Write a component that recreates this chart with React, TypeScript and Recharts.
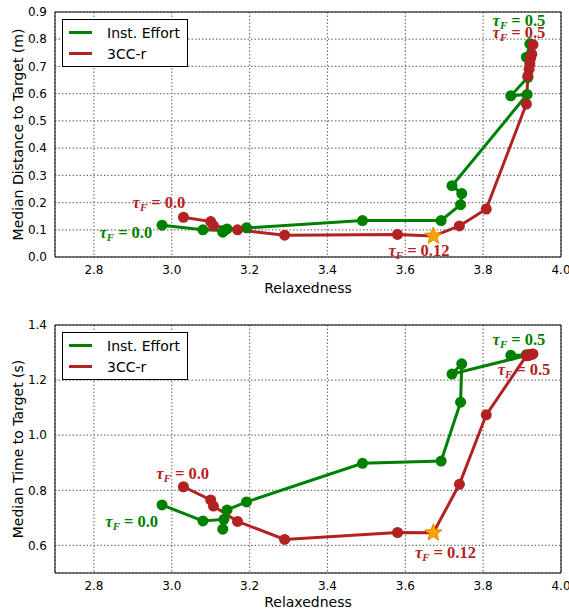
import { ComposedChart, Line, Scatter, XAxis, YAxis, CartesianGrid, ReferenceDot, Legend } from 'recharts'

// relaxedness (x) per controller setting, in plotted order
const relaxInst = [2.975, 3.08, 3.134, 3.131, 3.142, 3.192, 3.49, 3.692, 3.742, 3.745, 3.72, 3.913, 3.871, 3.915, 3.911, 3.92]
const distInst = [0.117, 0.1, 0.097, 0.091, 0.103, 0.107, 0.134, 0.134, 0.192, 0.233, 0.262, 0.597, 0.592, 0.66, 0.734, 0.783]
const timeInst = [0.747, 0.689, 0.695, 0.659, 0.729, 0.758, 0.898, 0.906, 1.12, 1.259, 1.222, 1.29, 1.29, 1.29, 1.292, 1.292]

const relaxCC = [3.03, 3.1, 3.107, 3.169, 3.29, 3.58, 3.672, 3.739, 3.808, 3.911, 3.915, 3.918, 3.92, 3.922, 3.925, 3.928]
const distCC = [0.146, 0.13, 0.115, 0.1, 0.08, 0.083, 0.077, 0.114, 0.176, 0.562, 0.665, 0.69, 0.71, 0.73, 0.745, 0.78]
const timeCC = [0.813, 0.765, 0.743, 0.687, 0.622, 0.647, 0.646, 0.822, 1.074, 1.288, 1.29, 1.291, 1.292, 1.293, 1.294, 1.295]
const STAR_INDEX = 6 // tau_F = 0.12

const xTicks = [2.8, 3.0, 3.2, 3.4, 3.6, 3.8, 4.0]
const distTicks = [0, 0.1, 0.2, 0.3, 0.4, 0.5, 0.6, 0.7, 0.8, 0.9]
const timeTicks = [0.6, 0.8, 1.0, 1.2, 1.4]

const GREEN = '#008000'
const RED = '#b22222'
const FONT = "'DejaVu Sans', sans-serif"

type Note = { x: number; y: number; text: string; color: string }

const distNotes: Note[] = [
  { x: 2.882, y: 0.092, text: '0.0', color: GREEN },
  { x: 2.967, y: 0.202, text: '0.0', color: RED },
  { x: 3.892, y: 0.871, text: '0.5', color: GREEN },
  { x: 3.892, y: 0.826, text: '0.5', color: RED },
  { x: 3.635, y: 0.026, text: '0.12', color: RED },
]
const timeNotes: Note[] = [
  { x: 3.028, y: 0.862, text: '0.0', color: RED },
  { x: 2.897, y: 0.688, text: '0.0', color: GREEN },
  { x: 3.892, y: 1.347, text: '0.5', color: GREEN },
  { x: 3.905, y: 1.24, text: '0.5', color: RED },
  { x: 3.703, y: 0.577, text: '0.12', color: RED },
]

const zip = (xs: number[], ys: number[]) => xs.map((x, i) => ({ x, y: ys[i] }))

function TauText({ cx, cy, value, color }: { cx: number; cy: number; value: string; color: string }) {
  return (
    <text x={cx} y={cy} dy="0.35em" textAnchor="middle" fill={color} fontFamily="'Liberation Serif', serif" fontWeight="bold" fontSize={16.5}>
      <tspan fontStyle="italic">τ</tspan>
      <tspan fontSize={11} fontStyle="italic" dy={3}>F</tspan>
      <tspan dy={-3} dx={4}>=</tspan>
      <tspan dx={4}>{value}</tspan>
    </text>
  )
}

function StarMark(props: any) {
  const { cx, cy } = props
  const pts: string[] = []
  for (let i = 0; i < 10; i++) {
    const rad = i % 2 === 0 ? 9 : 3.8
    const a = -Math.PI / 2 + (i * Math.PI) / 5
    pts.push(`${cx + rad * Math.cos(a)},${cy + rad * Math.sin(a)}`)
  }
  return <polygon points={pts.join(' ')} fill="#ffa500" stroke="#e08600" strokeWidth={1} />
}

function LegendBox() {
  const items = [
    { name: 'Inst. Effort', color: GREEN },
    { name: '3CC-r', color: RED },
  ]
  return (
    <div style={{ border: '1px solid #000', background: '#fff', padding: '2px 0 2px 6px', width: 126, boxSizing: 'border-box', fontFamily: FONT, fontSize: 14 }}>
      {items.map((it) => (
        <div key={it.name} style={{ display: 'flex', alignItems: 'center', height: 21 }}>
          <span style={{ display: 'inline-block', width: 23, height: 3, background: it.color, marginRight: 15 }} />
          <span>{it.name}</span>
        </div>
      ))}
    </div>
  )
}

interface PanelProps {
  instY: number[]
  ccY: number[]
  yDomain: [number, number]
  yTicks: number[]
  yLabel: string
  notes: Note[]
  height: number
  top: number
  xAxisHeight: number
  xLabelOffset: number
  legendTop: number
}

function Panel({ instY, ccY, yDomain, yTicks, yLabel, notes, height, top, xAxisHeight, xLabelOffset, legendTop }: PanelProps) {
  const inst = zip(relaxInst, instY)
  const cc = zip(relaxCC, ccY)
  const star = [cc[STAR_INDEX]]
  const tickStyle = { fontFamily: FONT, fontSize: 12, fill: '#000' }
  const xDomain: [number, number] = [2.7, 4.0]
  const edge = { stroke: '#000' }
  return (
    <ComposedChart width={569} height={height} margin={{ top, right: 8, bottom: 0, left: 0 }}>
      <CartesianGrid stroke="#777" strokeWidth={1.2} strokeDasharray="1.5 2" />
      <XAxis
        type="number"
        dataKey="x"
        domain={xDomain}
        ticks={xTicks}
        height={xAxisHeight}
        tickLine={false}
        axisLine={edge}
        tick={tickStyle}
        tickFormatter={(v: number) => v.toFixed(1)}
        label={{ value: 'Relaxedness', position: 'insideBottom', offset: xLabelOffset, fontFamily: FONT, fontSize: 14, fill: '#000' }}
      />
      <XAxis xAxisId="t" type="number" dataKey="x" domain={xDomain} ticks={xTicks} orientation="top" mirror tick={false} tickSize={4} axisLine={edge} tickLine={edge} />
      <YAxis
        type="number"
        domain={yDomain}
        ticks={yTicks}
        width={55}
        tickLine={false}
        axisLine={edge}
        tick={tickStyle}
        tickFormatter={(v: number) => v.toFixed(1)}
        label={{ value: yLabel, angle: -90, position: 'insideLeft', offset: 18, fontFamily: FONT, fontSize: 14, fill: '#000', style: { textAnchor: 'middle' } }}
      />
      <YAxis yAxisId="r" type="number" domain={yDomain} ticks={yTicks} orientation="right" mirror tick={false} tickSize={4} axisLine={edge} tickLine={edge} />
      <Legend
        layout="horizontal"
        verticalAlign="middle"
        align="center"
        wrapperStyle={{ top: legendTop, left: 62, width: 'auto', height: 'auto' }}
        content={() => <LegendBox />}
      />
      <Line
        data={inst}
        dataKey="y"
        name="Inst. Effort"
        type="linear"
        stroke={GREEN}
        strokeWidth={3}
        dot={{ r: 5.5, fill: GREEN, stroke: GREEN, strokeWidth: 0 }}
        activeDot={false}
        isAnimationActive={false}
      />
      <Line
        data={cc}
        dataKey="y"
        name="3CC-r"
        type="linear"
        stroke={RED}
        strokeWidth={3}
        dot={(p: any) =>
          p.index === STAR_INDEX ? <g key={p.key} /> : <circle key={p.key} cx={p.cx} cy={p.cy} r={5.5} fill={RED} />
        }
        activeDot={false}
        isAnimationActive={false}
      />
      <Scatter data={star} dataKey="y" shape={StarMark} isAnimationActive={false} legendType="none" />
      {notes.map((n, i) => (
        <ReferenceDot
          key={i}
          x={n.x}
          y={n.y}
          r={0}
          ifOverflow="visible"
          shape={(p: any) => <TauText cx={p.cx} cy={p.cy} value={n.text} color={n.color} />}
        />
      ))}
    </ComposedChart>
  )
}

export default function App() {
  return (
    <div style={{ position: 'absolute', left: 0, top: 0, width: 569, height: 613, background: '#fff' }}>
      <div style={{ position: 'absolute', left: 0, top: 0 }}>
        <Panel
          instY={distInst}
          ccY={distCC}
          yDomain={[0, 0.9]}
          yTicks={distTicks}
          yLabel="Median Distance to Target (m)"
          notes={distNotes}
          height={300}
          top={12}
          xAxisHeight={43}
          xLabelOffset={7}
          legendTop={19}
        />
      </div>
      <div style={{ position: 'absolute', left: 0, top: 300 }}>
        <Panel
          instY={timeInst}
          ccY={timeCC}
          yDomain={[0.5, 1.4]}
          yTicks={timeTicks}
          yLabel="Median Time to Target (s)"
          notes={timeNotes}
          height={313}
          top={25}
          xAxisHeight={40}
          xLabelOffset={6}
          legendTop={32}
        />
      </div>
    </div>
  )
}
